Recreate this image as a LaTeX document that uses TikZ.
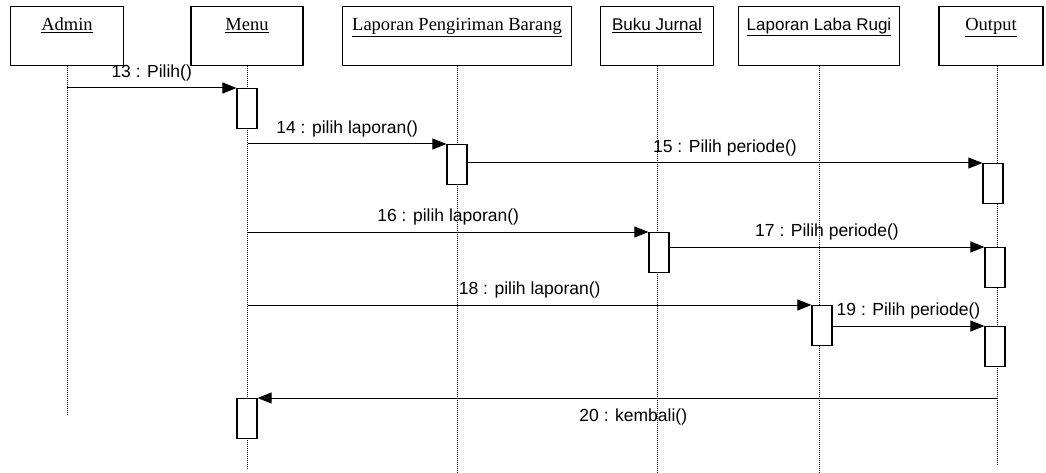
\documentclass[tikz,border=0pt]{standalone}
\usepackage{fontspec}
\setmainfont{Liberation Serif}
\setsansfont{Liberation Sans}
\usepackage{tikz}
\usetikzlibrary{positioning,arrows.meta}

\begin{document}
\begin{tikzpicture}[x=1pt, y=-1pt,
                    obj/.style={draw=black, line width=1.3pt, anchor=north,
                    inner sep=3pt, text height=21pt, text depth=32pt,
                    font=\fontsize{18.5}{20}\selectfont},
                    sobj/.style={obj, font=\sffamily\fontsize{17}{20}\selectfont},
                    act/.style={draw=black, line width=1.2pt, fill=white,
                    anchor=north, minimum width=20pt, minimum height=40pt,
                    inner sep=0pt},
                    life/.style={line width=1pt, dash pattern=on 1pt off 1pt},
                    msg/.style={line width=1pt, -{Triangle[length=14pt, width=11pt]}},
                    lbl/.style={font=\sffamily\fontsize{17.5}{20}\selectfont,
                    inner ysep=6pt, inner xsep=0pt},
                ]
                \useasboundingbox (0,0) rectangle (1046,473);

                % objects
                \node[obj, minimum width=113pt] (admin) at (67,6) {\underline{Admin}};
                \node[obj, minimum width=112pt] (menu) at (247,6) {\underline{Menu}};
                \node[obj, minimum width=229pt] (kirim) at (457,6) {\underline{Laporan Pengiriman Barang}};
                \node[sobj, minimum width=113pt] (jurnal) at (657,6) {\underline{Buku Jurnal}};
                \node[sobj, minimum width=161pt] (labarugi) at (819,6) {\underline{Laporan Laba Rugi}};
                \node[obj, minimum width=104pt] (output) at (991,6) {\underline{Output}};

                % lifelines
                \draw[life] (admin.south) -- ++(0,350);
                \draw[life] (menu.south) -- ++(0,404);
                \draw[life] (kirim.south) -- ++(0,407);
                \draw[life] (jurnal.south) -- ++(0,407);
                \draw[life] (labarugi.south) -- ++(0,407);
                \draw[life] ([xshift=6pt]output.south) -- ++(0,400);

                % activations
                \node[act] (menu_a) at (247,88) {};
                \node[act] (kirim_a) at (457,144) {};
                \node[act] (output_a) at (993,163) {};
                \node[act] (jurnal_a) at (659,232) {};
                \node[act] (output_b) at (995,247) {};
                \node[act] (labarugi_a) at (822,305) {};
                \node[act] (output_c) at (995,326) {};
                \node[act] (menu_b) at (247,398) {};

                \coordinate (admin_13) at (67,88);
                \coordinate (menu_14) at (248,144);
                \coordinate (menu_16) at (248,232);
                \coordinate (menu_18) at (248,305);
                \coordinate (output_20) at (997,398);

                % messages
                \draw[msg] (admin_13) -- (menu_a.north west)
                    node[lbl, midway, above] {13 : Pilih()};
                \draw[msg] (menu_14) -- (kirim_a.north west)
                    node[lbl, midway, above] {14 : pilih laporan()};
                \draw[msg] (kirim_a.east |- output_a.north) -- (output_a.north west)
                    node[lbl, midway, above] {15 : Pilih periode()};
                \draw[msg] (menu_16) -- (jurnal_a.north west)
                    node[lbl, midway, above] {16 : pilih laporan()};
                \draw[msg] (jurnal_a.east |- output_b.north) -- (output_b.north west)
                    node[lbl, midway, above] {17 : Pilih periode()};
                \draw[msg] (menu_18) -- (labarugi_a.north west)
                    node[lbl, midway, above] {18 : pilih laporan()};
                \draw[msg] (labarugi_a.east |- output_c.north) -- (output_c.north west)
                    node[lbl, midway, above] {19 : Pilih periode()};
                \draw[msg] (output_20) -- (menu_b.north east)
                    node[lbl, midway, below=4pt, xshift=6pt] {20 : kembali()};
            \end{tikzpicture}
\end{document}
